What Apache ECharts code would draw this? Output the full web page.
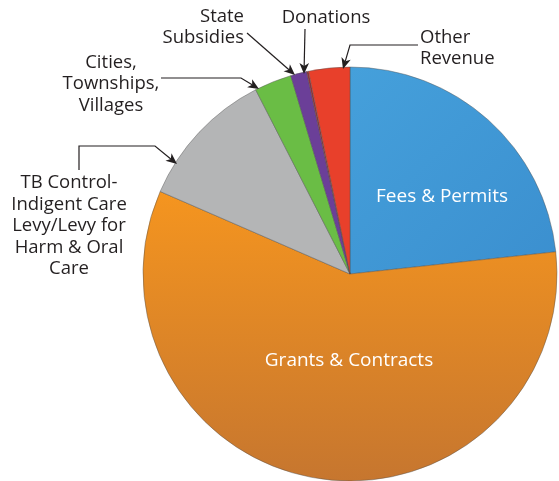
<!DOCTYPE html>
<html>
<head>
<meta charset="utf-8">
<script src="https://cdn.jsdelivr.net/npm/echarts@6/dist/echarts.min.js"></script>
<style>
html,body{margin:0;padding:0;background:#fff;}
#c{width:559px;height:481px;}
</style>
</head>
<body>
<div id="c"></div>
<script>
// ---- data ----
var categories = ['Fees & Permits', 'Grants & Contracts',
  'TB Control-\nIndigent Care\nLevy/Levy for\nHarm & Oral\nCare',
  'Cities,\nTownships,\nVillages', 'State\nSubsidies', 'Donations', 'Other\nRevenue'];
var values = [23.2, 58.0, 10.9, 2.9, 1.25, 0.15, 3.2];
var colors = ['#4199d6', 'orange', '#b4b5b6', '#6abd45', '#6b3f98', '#9a2f3a', '#e8402b'];

// ---- layout (label positions and leader routes, pixels) ----
var CX = 350, CY = 274, R = 207;
var labelPos = [
  {x: 442, y: 197, align: 'center'},
  {x: 349, y: 361, align: 'center'},
  {x: 69, y: 226, align: 'center'},
  {x: 111, y: 84, align: 'center'},
  {x: 244, y: 27, align: 'right'},
  {x: 326, y: 18, align: 'center'},
  {x: 420, y: 48, align: 'left'}
];
var leaders = [
  null, null,
  [[79, 170], [79, 146], [155, 146], [177, 164]],
  [[161, 78], [241, 78], [259, 89]],
  [[247, 33], [295, 75]],
  [[305, 29], [304, 74]],
  [[418, 45], [350, 45], [343, 69]]
];

var orangeGrad = new echarts.graphic.LinearGradient(0, 0, 0, 1, [
  {offset: 0, color: '#f5951f'}, {offset: 1, color: '#c6762f'}]);
var blueGrad = new echarts.graphic.LinearGradient(0, 0, 1, 1, [
  {offset: 0, color: '#45a0db'}, {offset: 1, color: '#3b8fcf'}]);

var data = categories.map(function (name, i) {
  var col = colors[i];
  if (i === 1) col = orangeGrad;
  if (i === 0) col = blueGrad;
  var inside = i < 2;
  return {
    name: name,
    value: values[i],
    itemStyle: {color: col},
    label: inside ? {
      position: 'inside', color: '#ffffff', fontSize: 19,
      fontFamily: 'Open Sans', lineHeight: 22
    } : {
      position: 'outside', color: '#231f20', fontSize: 18.5,
      fontFamily: 'Open Sans', lineHeight: 21.5
    },
    labelLine: {show: !inside, lineStyle: {color: '#231f20', width: 1.2}}
  };
});

// arrowheads at the end of each leader
var graphics = [];
leaders.forEach(function (pts) {
  if (!pts) return;
  var a = pts[pts.length - 2], b = pts[pts.length - 1];
  var dx = b[0] - a[0], dy = b[1] - a[1];
  var L = Math.sqrt(dx * dx + dy * dy);
  var ux = dx / L, uy = dy / L;
  var len = 11, hw = 4.8;
  var bx = b[0] - ux * len, by = b[1] - uy * len;
  graphics.push({
    type: 'polygon',
    shape: {points: [[b[0], b[1]], [bx - uy * hw, by + ux * hw], [bx + ux * 3, by + uy * 3], [bx + uy * hw, by - ux * hw]]},
    style: {fill: '#231f20'},
    z: 10
  });
});

var chart = echarts.init(document.getElementById('c'), null, {renderer: 'canvas'});
chart.setOption({
  backgroundColor: '#ffffff',
  animation: false,
  graphic: graphics,
  series: [{
    type: 'pie',
    center: [CX, CY],
    radius: R,
    startAngle: 90,
    clockwise: true,
    avoidLabelOverlap: false,
    silent: true,
    itemStyle: {borderColor: 'rgba(80,80,80,0.55)', borderWidth: 0.8},
    data: data,
    labelLayout: function (p) {
      var i = p.dataIndex;
      var lp = labelPos[i];
      var out = {x: lp.x, y: lp.y, align: lp.align, verticalAlign: 'middle'};
      if (leaders[i]) {
        var pts = leaders[i].slice();
        var a = pts[pts.length - 2], b = pts[pts.length - 1];
        var dx = b[0] - a[0], dy = b[1] - a[1];
        var L = Math.sqrt(dx * dx + dy * dy);
        pts[pts.length - 1] = [b[0] - dx / L * 8, b[1] - dy / L * 8];
        out.labelLinePoints = pts;
      }
      return out;
    }
  }]
});
</script>
</body>
</html>
